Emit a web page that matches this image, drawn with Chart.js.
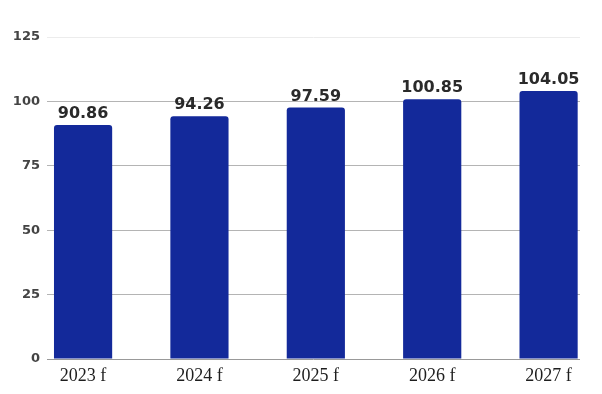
<!DOCTYPE html>
<html>
<head>
<meta charset="utf-8">
<script src="https://cdn.jsdelivr.net/npm/chart.js@4.4.1/dist/chart.umd.min.js"></script>
<style>
    html, body { margin: 0; padding: 0; background: #fff; }
    #wrap { width: 602px; height: 394px; position: relative; }
</style>
</head>
<body>
<div id="wrap"><canvas id="forecastChart" width="602" height="394"></canvas></div>
<script>
const categories = ["2023 f", "2024 f", "2025 f", "2026 f", "2027 f"];
const values = [90.86, 94.26, 97.59, 100.85, 104.05];
const yTicks = [0, 25, 50, 75, 100, 125];

const barColor = "#13299a";

// value labels above each bar
const valueLabels = {
    id: "valueLabels",
    afterDatasetsDraw(chart) {
        const ctx = chart.ctx;
        const meta = chart.getDatasetMeta(0);
        ctx.save();
        ctx.font = "bold 16px 'DejaVu Sans'";
        ctx.fillStyle = "#2a2a2a";
        ctx.textAlign = "center";
        ctx.textBaseline = "alphabetic";
        meta.data.forEach((bar, i) => {
            ctx.fillText(values[i].toFixed(2), bar.x, bar.y - 7);
        });
        ctx.restore();
    }
};

new Chart(document.getElementById("forecastChart"), {
    type: "bar",
    data: {
        datasets: [{
            data: values.map((v, i) => ({ x: i, y: v })),
            backgroundColor: barColor,
            borderRadius: 3,
            borderSkipped: "bottom",
            barPercentage: 0.5,
            categoryPercentage: 1
        }]
    },
    options: {
        responsive: false,
        animation: false,
        layout: { padding: { top: 37, right: 22, left: 0, bottom: 0 } },
        plugins: {
            legend: { display: false },
            tooltip: { enabled: false }
        },
        scales: {
            x: {
                type: "linear",
                offset: false,
                min: -0.31,
                max: 4.27,
                grid: { display: false },
                border: { display: false },
                afterBuildTicks: (scale) => {
                    scale.ticks = categories.map((c, i) => ({ value: i }));
                },
                afterFit: (scale) => { scale.height = 35; },
                ticks: {
                    autoSkip: false,
                    maxRotation: 0,
                    padding: -2,
                    color: "#1e1e1e",
                    font: { family: "'Liberation Serif'", size: 18 },
                    callback: (v) => categories[v]
                }
            },
            y: {
                min: 0,
                max: 125,
                afterBuildTicks: (scale) => {
                    scale.ticks = yTicks.map(v => ({ value: v }));
                },
                afterFit: (scale) => { scale.width = 47; },
                border: { display: false },
                grid: {
                    drawTicks: false,
                    lineWidth: 1,
                    color: (c) => {
                        if (c.tick.value === 0) return "#999";
                        if (c.tick.value === 125) return "#ececec";
                        return "#b4b4b4";
                    }
                },
                ticks: {
                    padding: 7,
                    color: "#444",
                    font: { family: "'DejaVu Sans'", size: 13, weight: "bold" }
                }
            }
        }
    },
    plugins: [valueLabels]
});
</script>
</body>
</html>
